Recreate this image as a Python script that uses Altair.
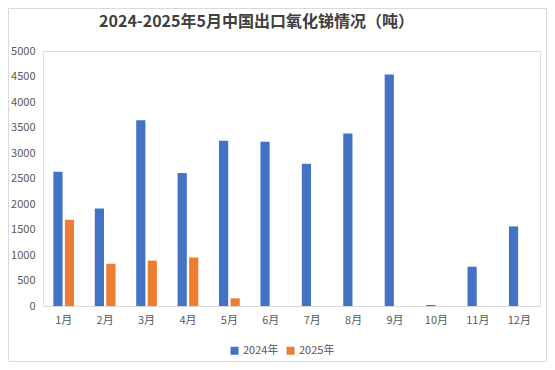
import altair as alt
import pandas as pd

months = ["1月", "2月", "3月", "4月", "5月", "6月", "7月", "8月", "9月", "10月", "11月", "12月"]
v2024 = [2630, 1910, 3640, 2610, 3240, 3220, 2790, 3380, 4540, 20, 770, 1560]
v2025 = [1690, 830, 890, 950, 150]
series = ["2024年", "2025年"]
colors = ["#4472C4", "#ED7D31"]
y_ticks = [0, 500, 1000, 1500, 2000, 2500, 3000, 3500, 4000, 4500, 5000]

rows = []
for m, v in zip(months, v2024):
    rows.append({"月份": m, "年份": series[0], "值": v})
for m, v in zip(months, v2025):
    rows.append({"月份": m, "年份": series[1], "值": v})
df = pd.DataFrame(rows)

FONT = "Noto Sans CJK SC"

bars = alt.Chart(df).mark_bar().encode(
    x=alt.X("月份:N", sort=months,
            scale=alt.Scale(paddingInner=0.5, paddingOuter=0.25),
            axis=alt.Axis(title=None, labelAngle=0, ticks=False, domainColor="#D9D9D9",
                          domainWidth=1, labelColor="#595959", labelFontSize=11,
                          labelFont=FONT, labelPadding=8, grid=False)),
    xOffset=alt.XOffset("年份:N", sort=series,
                        scale=alt.Scale(paddingInner=0.2, paddingOuter=0)),
    y=alt.Y("值:Q", scale=alt.Scale(domain=[0, 5000], nice=False),
            axis=alt.Axis(title=None, values=y_ticks, format="d", ticks=False, domain=False,
                          grid=False, labelColor="#595959", labelFontSize=11, labelFont=FONT,
                          labelPadding=8)),
    color=alt.Color("年份:N", sort=series,
                    scale=alt.Scale(domain=series, range=colors),
                    legend=alt.Legend(title=None, orient="none", direction="horizontal",
                                      legendX=186, legendY=294, symbolType="square",
                                      symbolSize=64, symbolStrokeWidth=0,
                                      labelFontSize=11, labelColor="#595959", labelFont=FONT,
                                      columnPadding=6, labelOffset=3)),
)

border = alt.Chart(alt.Data(values=[{}])).mark_rect(
    fill=None, stroke="#D9D9D9", strokeWidth=1
).encode(
    x=alt.value(-34.5), x2=alt.value(503.5), y=alt.value(-42.5), y2=alt.value(310.5)
)

chart = alt.layer(border, bars).properties(
    width=497,
    height=255,
    autosize=alt.AutoSizeParams(type="none"),
    padding={"left": 35, "top": 43, "right": 7, "bottom": 56},
    title=alt.Title("2024-2025年5月中国出口氧化锑情况（吨）", fontSize=16, font=FONT,
                    fontWeight="bold", color="#404040", anchor="middle", dx=-35, offset=0,
                    dy=22),
).configure_view(stroke=None).configure(background="white")

chart.save("out.html", embed_options={"renderer": "svg", "actions": False})
